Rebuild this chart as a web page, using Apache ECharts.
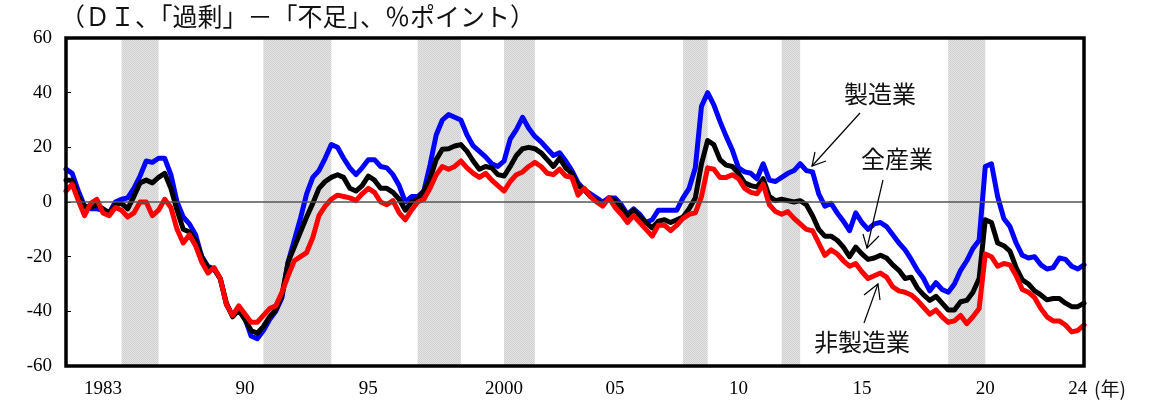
<!DOCTYPE html>
<html>
<head>
<meta charset="utf-8">
<script src="https://cdn.jsdelivr.net/npm/echarts@6/dist/echarts.min.js"></script>
<style>html,body{margin:0;padding:0;background:#fff;}#c{width:1162px;height:407px;}</style>
</head>
<body>
<div id="c"></div>
<script>
// Quarterly categories 1983/3 .. 2024/6
const categories = [];
for (let y = 1983; y <= 2024; y++) {
  for (const m of [3, 6, 9, 12]) {
    if (y === 2024 && m > 6) break;
    categories.push(y + '/' + m);
  }
}

// 製造業
const manufacturing = [
  12, 10.5, 4, -1.5, -2.5, -2.5, -3, -4, 0, 1,
  1.5, 5, 9.5, 15, 14.5, 16, 16, 10, 0, -5.5,
  -8, -12, -20, -23.5, -24.5, -28, -37.5, -41.5, -39.5, -42.5,
  -49, -50, -47, -43, -40, -35, -22, -14, -6, 3,
  9, 11.5, 16, 21, 20, 16, 12.5, 10, 12.5, 15.5,
  15.5, 13, 12.5, 10, 6, 0, 2, 2, 4, 13.5,
  24.5, 30, 32, 31, 30, 24.5, 20.5, 18.5, 16.5, 14,
  13, 15, 23, 26.5, 31, 27, 24, 22, 19.5, 17,
  18, 15, 11.5, 7, 4.5, 3, 1.5, 0, 1.5, 1.5,
  -1, -4.5, -2.5, -4.5, -7.5, -6.5, -3, -3, -3, -3,
  1.5, 5, 12.5, 35, 40, 35.5, 29.5, 24, 19, 12.5,
  11, 10.5, 8.5, 14, 8, 7.5, 9, 10.5, 11.5, 14,
  11.5, 11, 3, -1.5, -0.5, -4, -7, -10.5, -4, -7.5,
  -10, -8, -7.5, -9, -12, -15, -17.5, -21, -25, -28,
  -32.5, -29.5, -32, -33, -30, -25, -21.5, -17, -14, 13,
  14, 2, -6, -9, -15, -19.5, -20.5, -20, -23, -24.5,
  -24, -20.5, -21, -23.5, -24.5, -23
];

// 全産業
const allIndustries = [
  8, 8, 2, -1.5, -2, -1, -2.5, -4, -1, -0.5,
  -2.5, 2, 7, 8, 7, 9, 10.5, 5, -3, -10,
  -11, -14, -20, -24, -24.5, -28, -37, -42, -39.5, -43,
  -47, -48, -45.5, -42, -39.5, -34, -22, -16.5, -11, -5.5,
  -0.5, 5, 7.5, 9, 10, 9, 5, 4, 6, 9.5,
  8, 5, 5, 3.5, 1, -3, 0, 1, 4, 8.5,
  15.5, 19.3, 19.5, 20.5, 21, 18.5, 15, 12, 13, 12.5,
  10, 9.5, 13, 17, 19.5, 20, 19.5, 18, 15.5, 13,
  16, 12.5, 10.5, 6, 4.5, 2, 0.5, -1, 1.5, 0.5,
  -2, -5, -3, -5.5, -7.5, -9.5, -7, -6.5, -7.5, -6.5,
  -5.5, -2.5, 1.5, 14, 22.5, 21, 15.5, 13.5, 13, 10.5,
  7, 6, 5.5, 8.5, 2, 0.5, 1, 0.5, 0, 0.5,
  -1, -5, -10, -12.5, -12.5, -14, -16.5, -20, -16.5, -19,
  -21, -20.5, -19.5, -20.5, -23, -25, -28, -27.5, -31.5, -34,
  -36, -34.5, -37, -39.5, -39.5, -36.5, -36, -33, -28, -6.5,
  -7.5, -15, -16, -18, -24, -28.5, -30, -32.5, -34, -35.8,
  -35.3, -35.3, -37, -38.3, -38.3, -37
];

// 非製造業
const nonManufacturing = [
  4, 6.5, 0.5, -5, -0.5, 1, -4, -5, -2, -3,
  -5.5, -4, 0, 0, -5, -3, 1, -2, -10, -15,
  -12, -16, -22, -26, -24, -28, -37.5, -41.5, -38, -41,
  -44, -44, -41.5, -39, -38, -33, -27, -21.5, -20, -18.5,
  -13, -5, -1.5, 1, 2.5, 2, 1.5, 0.5, 3, 5,
  3.5, 0, -1, 0.5, -4, -6.5, -3, 0, 1, 5,
  10, 13, 12, 13, 15, 12.5, 10.5, 9, 10.5, 8,
  6, 4, 7.5, 10, 11, 13, 14.5, 13, 10.5, 10,
  12, 9.5, 9, 2.5, 5, 2, 0, -1.5, 1.5, -2,
  -4.5, -7.5, -5, -7.5, -10, -12.5, -8.5, -8.5, -10.5, -8.5,
  -6, -4.5, -4, 2, 12.5, 12, 9, 9, 10, 8.5,
  5, 3.5, 3, 6.5, -1, -3.5, -4.5, -3.5, -6, -8,
  -10, -10.5, -15, -19.5, -17.5, -19, -21.5, -23.5, -22.5, -25.5,
  -28, -27, -26, -27.5, -31, -32.5, -33, -34, -36, -38.5,
  -41, -39.5, -42, -44, -43.5, -41.5, -44.5, -42, -39, -19,
  -20, -23.5, -22.5, -23, -27, -32, -33, -35, -39, -42,
  -43.5, -43.5, -45, -47.5, -47, -45
];

// 景気後退期（シャドー）
const recessions = [
  ['1985/6', '1986/12'], ['1991/3', '1993/12'], ['1997/6', '1999/3'],
  ['2000/12', '2002/3'], ['2008/3', '2009/3'], ['2012/3', '2012/12'],
  ['2018/12', '2020/6']
];

// x軸ラベル
const xTickCats = ['1984/9', '1990/6', '1995/6', '2000/12', '2005/6', '2010/6', '2015/6', '2020/6', '2024/3'];
const xTickLabels = ['1983', '90', '95', '2000', '05', '10', '15', '20', '24'];

// y軸
const yMin = -60, yMax = 60, yInterval = 20;

// fine dither pattern for shading
const pat = document.createElement('canvas');
pat.width = 2; pat.height = 2;
const pc = pat.getContext('2d');
pc.fillStyle = '#e4e4e4'; pc.fillRect(0, 0, 2, 2);
pc.fillStyle = '#d0d0d0'; pc.fillRect(0, 0, 1, 1); pc.fillRect(1, 1, 1, 1);

const chart = echarts.init(document.getElementById('c'), null, {renderer: 'canvas'});
const serif = '"Liberation Serif", "DejaVu Serif", serif';
const jp = '"Noto Sans CJK JP", sans-serif';

const lineSeries = (name, data, color) => ({
  name, type: 'line', data, showSymbol: false, symbol: 'none', z: 3,
  lineStyle: {color, width: 5, join: 'round', cap: 'round'},
  itemStyle: {color}, animation: false, silent: true
});

chart.setOption({
  animation: false,
  grid: {left: 66, right: 78, top: 38, bottom: 41, show: true, borderColor: '#000', borderWidth: 3.5, z: 10, backgroundColor: 'transparent'},
  xAxis: {
    type: 'category', data: categories, boundaryGap: false,
    axisLine: {show: false}, axisTick: {show: false}, splitLine: {show: false},
    axisLabel: {
      interval: (idx, val) => xTickCats.indexOf(val) >= 0,
      formatter: (val) => xTickLabels[xTickCats.indexOf(val)],
      fontFamily: serif, fontSize: 19, color: '#000', margin: 14
    }
  },
  yAxis: {
    type: 'value', min: yMin, max: yMax, interval: yInterval,
    axisLine: {show: false}, splitLine: {show: false},
    axisTick: {show: true, inside: true, length: 5, lineStyle: {color: '#000', width: 1}},
    axisLabel: {fontFamily: serif, fontSize: 19, color: '#000', margin: 14}
  },
  graphic: [
    {type: 'text', left: 60, top: 4, style: {text: '（ＤＩ、「過剰」－「不足」、％ポイント）', font: '25px ' + jp, fill: '#111'}},
    {type: 'text', left: 1094, top: 379, style: {text: '(年)', font: '19px ' + jp, fill: '#111'}},
    {type: 'text', left: 844, top: 82, style: {text: '製造業', font: '24px ' + jp, fill: '#111'}},
    {type: 'text', left: 861, top: 147, style: {text: '全産業', font: '24px ' + jp, fill: '#111'}},
    {type: 'text', left: 814, top: 330, style: {text: '非製造業', font: '24px ' + jp, fill: '#111'}},
    {type: 'line', shape: {x1: 860, y1: 113, x2: 812, y2: 166}, style: {stroke: '#000', lineWidth: 1.2}, z: 20},
    {type: 'polyline', shape: {points: [[815, 152], [812, 166], [826, 161]]}, style: {stroke: '#000', lineWidth: 1.2, fill: null}, z: 20},
    {type: 'line', shape: {x1: 883, y1: 180, x2: 867, y2: 248}, style: {stroke: '#000', lineWidth: 1.2}, z: 20},
    {type: 'polyline', shape: {points: [[863, 234], [867, 248], [879, 236]]}, style: {stroke: '#000', lineWidth: 1.2, fill: null}, z: 20},
    {type: 'line', shape: {x1: 864, y1: 323, x2: 878, y2: 284}, style: {stroke: '#000', lineWidth: 1.2}, z: 20},
    {type: 'polyline', shape: {points: [[864, 295], [878, 284], [880, 300]]}, style: {stroke: '#000', lineWidth: 1.2, fill: null}, z: 20}
  ],
  series: [
    {
      type: 'line', data: [], z: 1, silent: true,
      markArea: {
        silent: true,
        itemStyle: {color: {image: pat, repeat: 'repeat'}},
        data: recessions.map(r => [{xAxis: r[0]}, {xAxis: r[1]}])
      },
      markLine: {
        silent: true, symbol: 'none', label: {show: false},
        lineStyle: {color: '#555', width: 1.5, type: 'solid'},
        data: [{yAxis: 0}]
      }
    },
    lineSeries('製造業', manufacturing, '#0000ff'),
    lineSeries('全産業', allIndustries, '#000000'),
    lineSeries('非製造業', nonManufacturing, '#ff0000')
  ]
});
</script>
</body>
</html>
